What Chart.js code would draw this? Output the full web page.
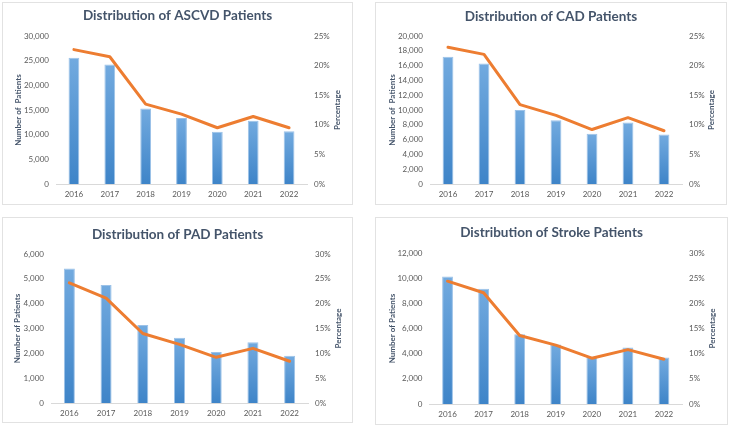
<!DOCTYPE html>
<html>
<head>
<meta charset="utf-8">
<script src="https://cdn.jsdelivr.net/npm/chart.js@4.4.0/dist/chart.umd.min.js"></script>
<style>
html, body { margin: 0; padding: 0; background: #fff; }
body { width: 729px; height: 426px; position: relative; overflow: hidden; }
.panel { position: absolute; border: 1px solid #e2e2e2; box-sizing: border-box; }
.panel canvas { position: absolute; left: 0; top: 0; }
</style>
</head>
<body>
<div class="panel" style="left:2px;top:2px;width:351px;height:203px"><canvas id="ascvd" width="349" height="201"></canvas></div>
<div class="panel" style="left:375px;top:2px;width:352px;height:203px"><canvas id="cad" width="350" height="201"></canvas></div>
<div class="panel" style="left:2px;top:217px;width:351px;height:206px"><canvas id="pad" width="349" height="204"></canvas></div>
<div class="panel" style="left:375px;top:217px;width:353px;height:208px"><canvas id="stroke" width="351" height="206"></canvas></div>
<script>
const years = ['2016', '2017', '2018', '2019', '2020', '2021', '2022'];

const ascvdPatients = [25600, 24200, 15300, 13400, 10600, 12800, 10700];
const ascvdPercent = [22.7, 21.5, 13.5, 11.8, 9.5, 11.4, 9.5];

const cadPatients = [17200, 16300, 10000, 8600, 6800, 8300, 6700];
const cadPercent = [23.1, 21.9, 13.4, 11.6, 9.2, 11.2, 9.0];

const padPatients = [5420, 4750, 3140, 2630, 2050, 2450, 1900];
const padPercent = [24.2, 21.1, 14.0, 11.8, 9.2, 11.0, 8.4];

const strokePatients = [10130, 9150, 5550, 4730, 3750, 4500, 3700];
const strokePercent = [24.4, 22.1, 13.6, 11.7, 9.1, 10.8, 8.9];

const FONT = 'Lato';
const TITLE_COLOR = '#44546a';
const TICK_COLOR = '#595959';

// draws the right axis title reading bottom to top, like the left one
const sideTitle = {
    id: 'sideTitle',
    afterDraw(chart, args, opts) {
        const {ctx, chartArea} = chart;
        ctx.save();
        ctx.font = 'bold 8px ' + FONT;
        ctx.fillStyle = TITLE_COLOR;
        ctx.textAlign = 'center';
        ctx.textBaseline = 'middle';
        ctx.translate(opts.x, (chartArea.top + chartArea.bottom) / 2);
        ctx.rotate(-Math.PI / 2);
        ctx.fillText(opts.text, 0, 0);
        ctx.restore();
    }
};

function barFill(context) {
    const chart = context.chart;
    const area = chart.chartArea;
    if (!area || context.type !== 'data') return '#5b9bd5';
    const top = chart.scales.y.getPixelForValue(context.parsed.y);
    const g = chart.ctx.createLinearGradient(0, top, 0, area.bottom);
    g.addColorStop(0, '#72aadf');
    g.addColorStop(1, '#3e84c8');
    return g;
}

function makeChart(id, box, title, leftTitle, patients, percent, leftMax, leftStep, rightMax) {
    const W = box.w, H = box.h;
    return new Chart(document.getElementById(id), {
        type: 'bar',
        data: {
            labels: years,
            datasets: [
                {
                    type: 'line',
                    data: percent,
                    yAxisID: 'y1',
                    borderColor: '#ed7d31',
                    borderWidth: 3,
                    pointRadius: 0,
                    borderJoinStyle: 'round',
                    borderCapStyle: 'round',
                    tension: 0,
                    order: 0
                },
                {
                    type: 'bar',
                    data: patients,
                    yAxisID: 'y',
                    backgroundColor: barFill,
                    borderColor: '#9cc2e8',
                    borderWidth: 1,
                    borderSkipped: 'bottom',
                    barPercentage: 0.3,
                    categoryPercentage: 1,
                    order: 1
                }
            ]
        },
        options: {
            responsive: false,
            animation: false,
            layout: { padding: 0 },
            plugins: {
                legend: { display: false },
                tooltip: { enabled: false },
                title: {
                    display: true,
                    text: title,
                    color: TITLE_COLOR,
                    font: { family: FONT, size: 13.5, weight: 'bold', lineHeight: 1.2 },
                    padding: { top: box.titleY - 8.1, bottom: box.top - box.titleY - 8.1 }
                },
                sideTitle: { text: 'Percentage', x: box.rightTitleX }
            },
            scales: {
                x: {
                    grid: { display: false, drawTicks: false },
                    border: { display: true, color: '#d9d9d9', width: 1 },
                    ticks: { color: TICK_COLOR, font: { family: FONT, size: 8 }, padding: 6, maxRotation: 0 },
                    afterFit: s => { s.height = H - box.bottom; }
                },
                y: {
                    position: 'left',
                    min: 0,
                    max: leftMax,
                    grid: { display: false, drawTicks: false },
                    border: { display: false },
                    ticks: {
                        stepSize: leftStep,
                        color: TICK_COLOR,
                        font: { family: FONT, size: 8 },
                        padding: 7,
                        callback: v => v.toLocaleString('en-US')
                    },
                    title: {
                        display: true,
                        text: leftTitle,
                        color: TITLE_COLOR,
                        font: { family: FONT, size: 8, weight: 'bold', lineHeight: 1.2 },
                        padding: { top: box.leftTitleX - 4.8, bottom: 0 }
                    },
                    afterFit: s => { s.width = box.left; }
                },
                y1: {
                    position: 'right',
                    min: 0,
                    max: rightMax,
                    grid: { display: false, drawTicks: false },
                    border: { display: false },
                    ticks: {
                        stepSize: 5,
                        color: TICK_COLOR,
                        font: { family: FONT, size: 8 },
                        padding: 7,
                        callback: v => v + '%'
                    },
                    afterFit: s => { s.width = W - box.right; }
                }
            }
        },
        plugins: [sideTitle]
    });
}

makeChart('ascvd',
    { w: 349, h: 201, left: 53, right: 304, top: 33, bottom: 181, titleY: 13, leftTitleX: 15, rightTitleX: 334 },
    'Distribution of ASCVD Patients', 'Number of  Patients',
    ascvdPatients, ascvdPercent, 30000, 5000, 25);

makeChart('cad',
    { w: 350, h: 201, left: 54, right: 306, top: 33, bottom: 181, titleY: 13.7, leftTitleX: 16, rightTitleX: 335 },
    'Distribution of CAD Patients', 'Number of  Patients',
    cadPatients, cadPercent, 20000, 2000, 25);

makeChart('pad',
    { w: 349, h: 204, left: 48, right: 305, top: 36, bottom: 185, titleY: 17, leftTitleX: 14, rightTitleX: 335 },
    'Distribution of PAD Patients', 'Number of Patients',
    padPatients, padPercent, 6000, 1000, 30);

makeChart('stroke',
    { w: 351, h: 206, left: 53.5, right: 306, top: 35, bottom: 186, titleY: 15, leftTitleX: 16, rightTitleX: 336 },
    'Distribution of Stroke Patients', 'Number of Patients',
    strokePatients, strokePercent, 12000, 2000, 30);
</script>
</body>
</html>
